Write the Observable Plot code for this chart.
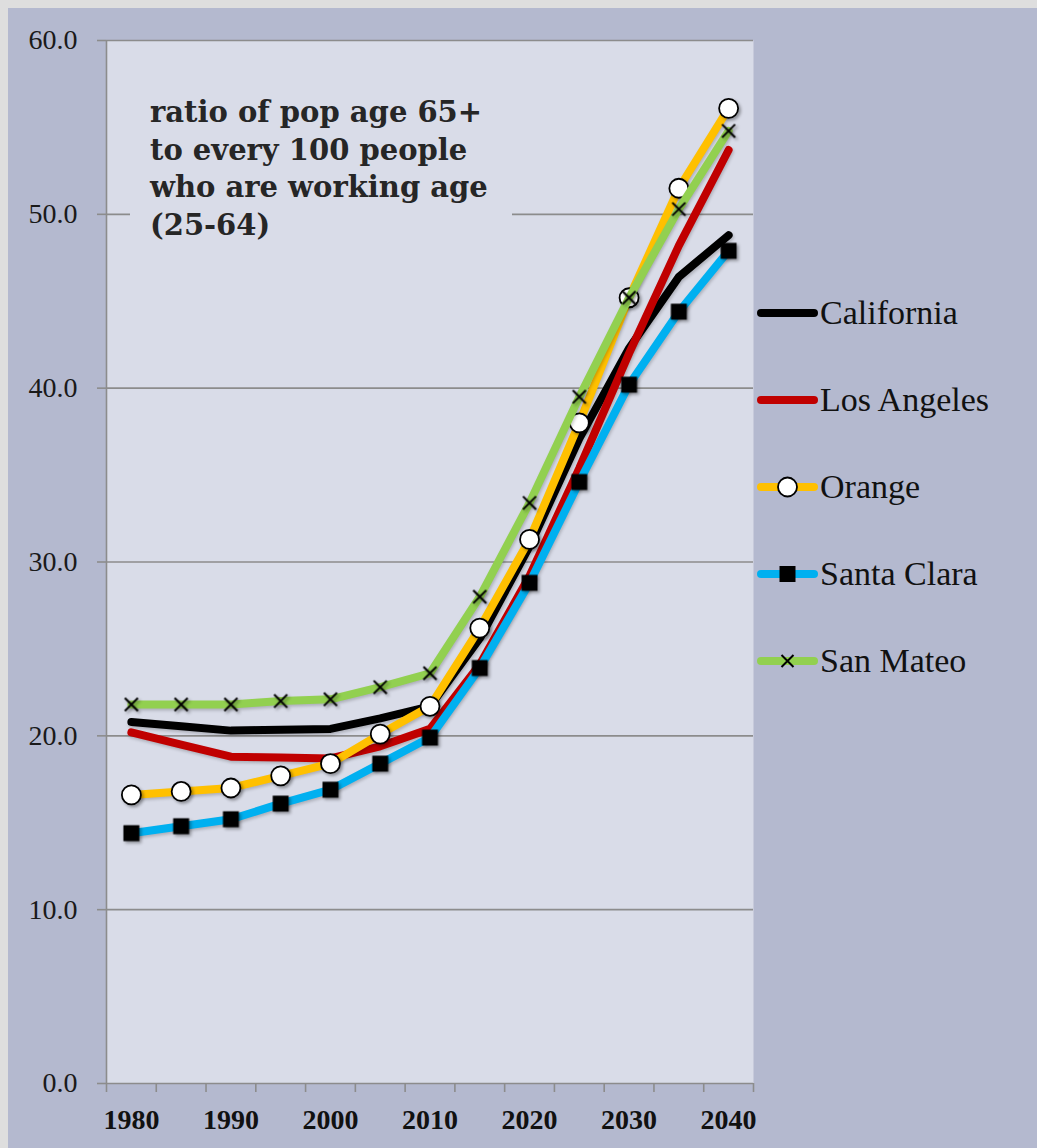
<!DOCTYPE html>
<html>
<head>
<meta charset="utf-8">
<script src="https://cdn.jsdelivr.net/npm/d3@7"></script>
<script src="https://cdn.jsdelivr.net/npm/@observablehq/plot@0.6"></script>
<style>
  html, body { margin: 0; padding: 0; background: #dedede; }
  #wrap { position: relative; width: 1037px; height: 1148px; overflow: hidden; }
  #panel { position: absolute; left: 8px; top: 8px; right: 0; bottom: 0; background: #b4b9cf; }
  #chart { position: absolute; left: 0; top: 0; }
  #note {
    position: absolute; left: 130px; top: 94px; width: 382px; height: 160px;
    background: #d9dce8; box-sizing: border-box; padding: 0 0 0 20px;
    font-family: "DejaVu Serif", serif; font-weight: bold; font-size: 29px;
    line-height: 37.7px; color: #262626; white-space: pre;
  }
  #legend { position: absolute; left: 757px; top: 0; }
  .item { position: absolute; left: 0; height: 40px; display: flex; align-items: center; white-space: nowrap; }
  .item svg { display: block; }
  .item span { font-family: "Liberation Serif", "Times New Roman", serif; font-size: 34px; color: #111; margin-left: 1px; }
  #chart g[aria-label="dot"] { filter: drop-shadow(2px 2px 1.5px rgba(0,0,0,0.35)); }
  #chart g[aria-label="line"] { filter: drop-shadow(1.5px 2px 1.5px rgba(0,0,0,0.2)); }
</style>
</head>
<body>
<div id="wrap">
  <div id="panel"></div>
  <div id="chart"></div>
  <div id="note"></div>
  <div id="legend"></div>
</div>
<script>
// ---- data ----
const years = [1980, 1985, 1990, 1995, 2000, 2005, 2010, 2015, 2020, 2025, 2030, 2035, 2040];
const california = [20.8, 20.55, 20.3, 20.35, 20.4, 21.0, 21.7, 25.6, 30.9, 37.1, 42.3, 46.4, 48.8];
const losAngeles = [20.2, 19.5, 18.8, 18.75, 18.7, 19.4, 20.4, 24.1, 29.2, 35.4, 42.0, 48.2, 53.7];
const orange     = [16.6, 16.8, 17.0, 17.7, 18.4, 20.1, 21.7, 26.2, 31.3, 38.0, 45.2, 51.5, 56.1];
const santaClara = [14.4, 14.8, 15.2, 16.1, 16.9, 18.4, 19.9, 23.9, 28.8, 34.6, 40.2, 44.4, 47.9];
const sanMateo   = [21.8, 21.8, 21.8, 22.0, 22.1, 22.8, 23.6, 28.0, 33.4, 39.5, 45.2, 50.3, 54.8];

const seriesNames  = ["California", "Los Angeles", "Orange", "Santa Clara", "San Mateo"];
const seriesValues = [california, losAngeles, orange, santaClara, sanMateo];
const seriesColors = ["#000000", "#c00000", "#ffc000", "#00b0f0", "#92d050"];
const seriesMarkers = [null, null, "circle", "square", "times"];

const yTicks = [0, 10, 20, 30, 40, 50, 60];
const xLabelTicks = [1980, 1990, 2000, 2010, 2020, 2030, 2040];
const noteLines = ["ratio of pop age 65+", "to every 100 people", "who are working age", "(25-64)"];

// ---- derived ----
const half = (years[1] - years[0]) / 2;
const xDomain = [years[0] - half, years[years.length - 1] + half];
const boundaries = years.map(y => y - half).concat([years[years.length - 1] + half]);

const serif = "'Liberation Serif', 'Times New Roman', serif";

const markerStyle = {
  circle: {r: 9.5, fill: "white", stroke: "black", strokeWidth: 1.8},
  square: {r: 9, fill: "black", stroke: "none"},
  times:  {r: 6, fill: "none", stroke: "black", strokeWidth: 2}
};

const marks = [
  Plot.frame({fill: "#d9dce8", stroke: "none"}),
  Plot.gridY(yTicks.slice(1), {stroke: "#8c8c8c", strokeOpacity: 1, strokeWidth: 1.6}),
  Plot.ruleX([xDomain[0]], {stroke: "#8c8c8c", strokeWidth: 1.6}),
  Plot.ruleY([0], {stroke: "#8c8c8c", strokeWidth: 1.6}),
  Plot.axisY(yTicks, {
    tickSize: 9, tickPadding: 20, stroke: "#8c8c8c", strokeWidth: 1.6,
    fill: "#1a1a1a", fontSize: 28, fontFamily: serif,
    tickFormat: d => d.toFixed(1), label: null
  }),
  Plot.axisX(boundaries, {
    tickSize: 9, stroke: "#8c8c8c", strokeWidth: 1.6, tickFormat: () => "", label: null
  }),
  Plot.axisX(xLabelTicks, {
    tickSize: 0, tickPadding: 26, fill: "#111", fontSize: 28, fontWeight: "bold",
    fontFamily: serif, tickFormat: d => String(d), label: null
  })
];

seriesNames.forEach((name, i) => {
  const data = years.map((yr, j) => ({year: yr, value: seriesValues[i][j], series: name}));
  marks.push(Plot.line(data, {
    x: "year", y: "value", stroke: seriesColors[i], strokeWidth: 8,
    strokeLinecap: "round", strokeLinejoin: "round"
  }));
  const m = seriesMarkers[i];
  if (m) {
    marks.push(Plot.dot(data, {x: "year", y: "value", symbol: m, ...markerStyle[m]}));
  }
});

const chart = Plot.plot({
  width: 1037,
  height: 1148,
  marginLeft: 106,
  marginRight: 284,
  marginTop: 40,
  marginBottom: 65,
  x: {type: "linear", domain: xDomain},
  y: {domain: [yTicks[0], yTicks[yTicks.length - 1]]},
  style: {background: "transparent", overflow: "visible", fontFamily: serif},
  marks
});
document.getElementById("chart").appendChild(chart);

// ---- annotation ----
document.getElementById("note").textContent = noteLines.join("\n");

// ---- legend ----
const legend = document.getElementById("legend");
const legendTop = 293, legendStep = 87;
seriesNames.forEach((name, i) => {
  const item = document.createElement("div");
  item.className = "item";
  item.style.top = (legendTop + i * legendStep) + "px";
  const ns = "http://www.w3.org/2000/svg";
  const svg = document.createElementNS(ns, "svg");
  svg.setAttribute("width", 62); svg.setAttribute("height", 24);
  const ln = document.createElementNS(ns, "line");
  ln.setAttribute("x1", 4); ln.setAttribute("x2", 57); ln.setAttribute("y1", 12); ln.setAttribute("y2", 12);
  ln.setAttribute("stroke", seriesColors[i]); ln.setAttribute("stroke-width", 8);
  ln.setAttribute("stroke-linecap", "round");
  svg.appendChild(ln);
  const m = seriesMarkers[i];
  if (m === "circle") {
    const c = document.createElementNS(ns, "circle");
    c.setAttribute("cx", 30.5); c.setAttribute("cy", 12); c.setAttribute("r", 9.5);
    c.setAttribute("fill", "white"); c.setAttribute("stroke", "black"); c.setAttribute("stroke-width", 1.8);
    svg.appendChild(c);
  } else if (m === "square") {
    const r = document.createElementNS(ns, "rect");
    r.setAttribute("x", 22.5); r.setAttribute("y", 4); r.setAttribute("width", 16); r.setAttribute("height", 16);
    r.setAttribute("fill", "black");
    svg.appendChild(r);
  } else if (m === "times") {
    const p = document.createElementNS(ns, "path");
    p.setAttribute("d", "M24.5,6L36.5,18M36.5,6L24.5,18");
    p.setAttribute("stroke", "black"); p.setAttribute("stroke-width", 2);
    svg.appendChild(p);
  }
  item.appendChild(svg);
  const span = document.createElement("span");
  span.textContent = name;
  item.appendChild(span);
  legend.appendChild(item);
});
</script>
</body>
</html>
